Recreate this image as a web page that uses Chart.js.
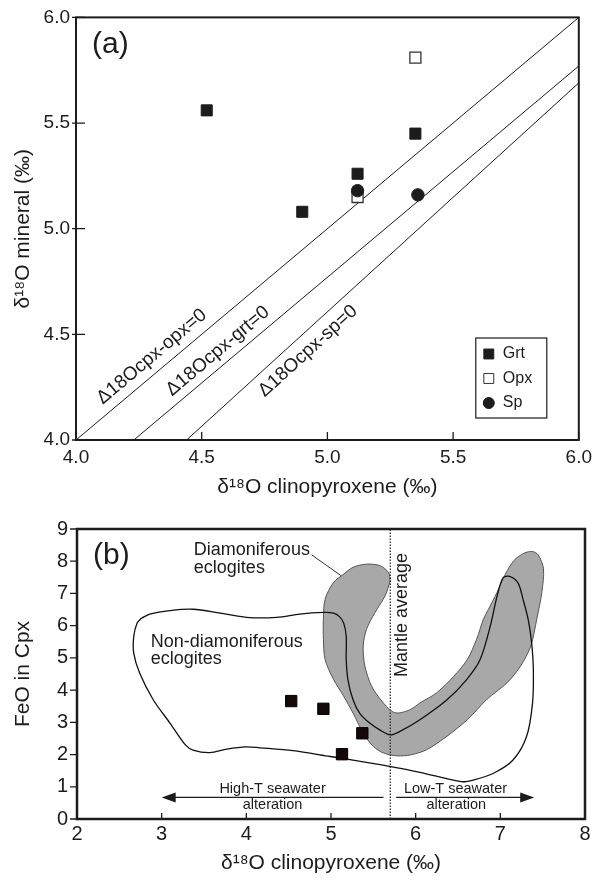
<!DOCTYPE html>
<html>
<head>
<meta charset="utf-8">
<script src="https://cdn.jsdelivr.net/npm/chart.js@4.4.1/dist/chart.umd.min.js"></script>
<style>
  html, body { margin: 0; padding: 0; background: #fff; }
  #chartA { position: absolute; left: 0; top: 0; }
  #chartB { position: absolute; left: 0; top: 500px; }
</style>
</head>
<body>
<canvas id="chartA" width="598" height="500"></canvas>
<canvas id="chartB" width="598" height="381"></canvas>
<script>
// ---- panel (a): d18O mineral vs d18O cpx ----
const grtX = [4.52, 4.90, 5.12, 5.35];
const grtY = [5.56, 5.08, 5.26, 5.45];
const opxX = [5.35, 5.12];
const opxY = [5.81, 5.15];
const spX = [5.12, 5.36];
const spY = [5.18, 5.16];
// equilibrium lines (endpoints)
const opxLineX = [4.0, 6.0];
const opxLineY = [4.0, 6.0];
const grtLineX = [4.23, 6.0];
const grtLineY = [4.0, 5.77];
const spLineX = [4.44, 6.0];
const spLineY = [4.0, 5.69];
const ticksA = [4.0, 4.5, 5.0, 5.5, 6.0];

// ---- panel (b): FeO in cpx vs d18O cpx ----
const cpxO = [4.53, 4.91, 5.37, 5.13];
const cpxFeO = [3.66, 3.42, 2.66, 2.01];
const mantleAvg = 5.7;
const ticksBx = [2, 3, 4, 5, 6, 7, 8];
const ticksBy = [0, 1, 2, 3, 4, 5, 6, 7, 8, 9];
// diamondiferous eclogite field (shaded)
const diamX = [5.70, 5.64, 5.52, 5.42, 5.38, 5.40, 5.48, 5.60, 5.72, 5.80, 5.94, 6.05, 6.25, 6.45, 6.61, 6.72, 6.80, 6.86,
  6.96, 7.06, 7.16, 7.28, 7.38, 7.45, 7.51, 7.49, 7.43, 7.36, 7.24, 7.08, 6.84, 6.61, 6.37, 6.13, 5.94, 5.78, 5.62, 5.50,
  5.38, 5.26, 5.15, 5.03, 4.93, 4.91, 4.91, 4.93, 5.03, 5.15, 5.26, 5.42, 5.58, 5.68, 5.70];
const diamY = [7.39, 6.93, 6.41, 5.89, 5.37, 4.75, 4.12, 3.66, 3.34, 3.29, 3.40, 3.60, 3.92, 4.43, 4.95, 5.58, 6.20, 6.51,
  7.03, 7.60, 8.02, 8.25, 8.30, 8.19, 7.76, 7.03, 6.20, 5.37, 4.75, 4.23, 3.71, 3.08, 2.57, 2.15, 1.99, 1.96, 2.05, 2.25,
  2.67, 3.29, 3.81, 4.33, 4.95, 5.58, 6.20, 6.82, 7.34, 7.60, 7.81, 7.91, 7.86, 7.65, 7.39];
// non-diamondiferous eclogite field (outline)
const nonDiamX = [2.76, 2.86, 3.10, 3.37, 3.69, 4.00, 4.36, 4.63, 4.91, 5.03, 5.10, 5.15, 5.18, 5.18, 5.20, 5.26, 5.34,
  5.46, 5.58, 5.70, 5.81, 6.05, 6.37, 6.60, 6.76, 6.88, 6.96, 7.03, 7.11, 7.21, 7.27, 7.33, 7.37, 7.39, 7.38, 7.31, 7.15,
  6.92, 6.68, 6.54, 6.05, 5.66, 5.26, 4.99, 4.55, 4.16, 4.00, 3.77, 3.57, 3.37, 3.28, 3.10, 2.90, 2.74, 2.67, 2.67, 2.71, 2.76];
const nonDiamY = [6.23, 6.36, 6.47, 6.51, 6.39, 6.26, 6.26, 6.36, 6.41, 6.39, 6.28, 6.08, 5.66, 4.94, 4.32, 3.70, 3.28,
  2.97, 2.76, 2.61, 2.71, 3.08, 3.70, 4.32, 4.94, 5.97, 6.90, 7.48, 7.53, 7.32, 6.80, 6.18, 5.46, 4.63, 3.59, 2.56, 1.83,
  1.42, 1.21, 1.16, 1.45, 1.65, 1.83, 1.94, 2.12, 2.21, 2.24, 2.17, 2.06, 2.14, 2.30, 2.97, 3.70, 4.53, 5.15, 5.66, 6.08, 6.23];
const leaderX = [4.77, 5.12];
const leaderY = [8.20, 7.55];

const FONT = "'Liberation Sans', Arial, Helvetica, sans-serif";
const INK = '#1c1c1c';

function pts(xs, ys) {
  return xs.map((x, i) => ({ x: x, y: ys[i] }));
}

function text(ctx, str, px, py, size, align, rot) {
  ctx.save();
  ctx.font = size + 'px ' + FONT;
  ctx.fillStyle = INK;
  ctx.textAlign = align || 'left';
  ctx.textBaseline = 'middle';
  ctx.translate(px, py);
  if (rot) ctx.rotate(rot);
  ctx.fillText(str, 0, 0);
  ctx.restore();
}

// frame + tick marks (ticks in/out given in px)
function frame(chart, o) {
  const { ctx, chartArea: a, scales: { x, y } } = chart;
  ctx.save();
  ctx.strokeStyle = INK;
  ctx.lineWidth = 1.3;
  ctx.beginPath();
  x.ticks.forEach(t => {
    const px = x.getPixelForValue(t.value);
    ctx.moveTo(px, a.bottom + o.xOut);
    ctx.lineTo(px, a.bottom - o.xIn);
  });
  y.ticks.forEach(t => {
    const py = y.getPixelForValue(t.value);
    ctx.moveTo(a.left - o.yOut, py);
    ctx.lineTo(a.left + o.yIn, py);
  });
  ctx.stroke();
  ctx.lineWidth = o.width;
  ctx.strokeRect(a.left, a.top, a.right - a.left, a.bottom - a.top);
  ctx.restore();
}

function axisOpts(min, max, tickList, fmt, size, pad, title, fit) {
  return {
    type: 'linear', min: min, max: max,
    afterBuildTicks: s => { s.ticks = tickList.map(v => ({ value: v })); },
    ticks: { callback: fmt, font: { family: FONT, size: size }, color: INK, padding: pad, maxRotation: 0, autoSkip: false },
    grid: { display: false, drawTicks: false },
    border: { display: false },
    title: { display: true, text: title.text, font: { family: FONT, size: 21 }, color: INK, padding: title.padding },
    afterFit: fit
  };
}

// ---------------- chart (a) ----------------
const lineLabels = [
  { text: 'Δ18Ocpx-opx=0', xs: opxLineX, ys: opxLineY, at: 4.34, off: 15 },
  { text: 'Δ18Ocpx-grt=0', xs: grtLineX, ys: grtLineY, at: 4.60, off: 14 },
  { text: 'Δ18Ocpx-sp=0', xs: spLineX, ys: spLineY, at: 4.88, off: -16 }
];

const notesA = {
  id: 'notesA',
  afterDatasetsDraw(chart) {
    const { ctx, chartArea: a, scales: { x, y } } = chart;
    frame(chart, { xOut: 0, xIn: 8, yOut: 4, yIn: 9, width: 2 });
    text(ctx, '(a)', a.left + 16, a.top + 27, 30);
    lineLabels.forEach(l => {
      const x0 = x.getPixelForValue(l.xs[0]), y0 = y.getPixelForValue(l.ys[0]);
      const x1 = x.getPixelForValue(l.xs[1]), y1 = y.getPixelForValue(l.ys[1]);
      const ang = Math.atan2(y1 - y0, x1 - x0);
      const t = (l.at - l.xs[0]) / (l.xs[1] - l.xs[0]);
      const px = x0 + t * (x1 - x0) + l.off * Math.sin(ang);
      const py = y0 + t * (y1 - y0) - l.off * Math.cos(ang);
      text(ctx, l.text, px, py, 19, 'center', ang);
    });
    // legend box
    const w = 71, h = 80;
    const lx = a.right - 32 - w, ly = a.bottom - 22 - h;
    ctx.save();
    ctx.fillStyle = '#fff';
    ctx.fillRect(lx, ly, w, h);
    ctx.strokeStyle = INK;
    ctx.lineWidth = 1.2;
    ctx.strokeRect(lx, ly, w, h);
    ctx.restore();
    ['Grt', 'Opx', 'Sp'].forEach((name, i) => {
      const ds = chart.data.datasets.find(d => d.label === name);
      const cy = ly + 16 + i * 24.5;
      ctx.save();
      ctx.fillStyle = ds.backgroundColor;
      ctx.strokeStyle = ds.borderColor;
      Chart.helpers.drawPoint(ctx, {
        pointStyle: ds.pointStyle, radius: ds.pointStyle === 'circle' ? 5.5 : 7,
        borderWidth: ds.borderWidth, rotation: 0
      }, lx + 13, cy);
      ctx.restore();
      text(ctx, name, lx + 27, cy, 16);
    });
  }
};

new Chart(document.getElementById('chartA'), {
  type: 'scatter',
  data: {
    datasets: [
      { label: 'Grt', data: pts(grtX, grtY), pointStyle: 'rect', pointRadius: 7.8,
        backgroundColor: INK, borderColor: INK, borderWidth: 1 },
      { label: 'Sp', data: pts(spX, spY), pointStyle: 'circle', pointRadius: 6.2,
        backgroundColor: INK, borderColor: INK, borderWidth: 1 },
      { label: 'Opx', data: pts(opxX, opxY), pointStyle: 'rect', pointRadius: 7.8,
        backgroundColor: '#fff', borderColor: '#333', borderWidth: 1.3 },
      { label: 'cpx-opx', type: 'line', data: pts(opxLineX, opxLineY), pointRadius: 0, borderColor: INK, borderWidth: 1, fill: false },
      { label: 'cpx-grt', type: 'line', data: pts(grtLineX, grtLineY), pointRadius: 0, borderColor: INK, borderWidth: 1, fill: false },
      { label: 'cpx-sp', type: 'line', data: pts(spLineX, spLineY), pointRadius: 0, borderColor: INK, borderWidth: 1, fill: false }
    ]
  },
  options: {
    responsive: false,
    animation: false,
    events: [],
    layout: { padding: { top: 14, right: 15, left: 0, bottom: 0 } },
    plugins: { legend: { display: false }, tooltip: { enabled: false } },
    scales: {
      x: axisOpts(4, 6, ticksA, v => v.toFixed(1), 19, 6,
        { text: 'δ¹⁸O clinopyroxene (‰)', padding: { top: 0, bottom: 0 } }, s => { s.height = 60; }),
      y: axisOpts(4, 6, ticksA, v => v.toFixed(1), 19, 6,
        { text: 'δ¹⁸O mineral (‰)', padding: { top: 11, bottom: 0 } }, s => { s.width = 76; })
    }
  },
  plugins: [notesA]
});

// ---------------- chart (b) ----------------
function arrow(ctx, xTail, xTip, yy) {
  const dir = xTip > xTail ? 1 : -1;
  ctx.save();
  ctx.strokeStyle = INK;
  ctx.fillStyle = INK;
  ctx.lineWidth = 1.2;
  ctx.beginPath();
  ctx.moveTo(xTail, yy);
  ctx.lineTo(xTip - dir * 10, yy);
  ctx.stroke();
  ctx.beginPath();
  ctx.moveTo(xTip, yy);
  ctx.lineTo(xTip - dir * 14, yy - 5);
  ctx.lineTo(xTip - dir * 14, yy + 5);
  ctx.closePath();
  ctx.fill();
  ctx.restore();
}

const notesB = {
  id: 'notesB',
  afterDatasetsDraw(chart) {
    const { ctx, chartArea: a, scales: { x, y } } = chart;
    frame(chart, { xOut: 0, xIn: 6, yOut: 7, yIn: 0, width: 2.5 });
    text(ctx, '(b)', a.left + 16, a.top + 27, 30);
    text(ctx, 'Diamoniferous', x.getPixelForValue(3.38), y.getPixelForValue(8.36), 18);
    text(ctx, 'eclogites', x.getPixelForValue(3.38), y.getPixelForValue(7.80), 18);
    text(ctx, 'Non-diamoniferous', x.getPixelForValue(2.87), y.getPixelForValue(5.50), 18);
    text(ctx, 'eclogites', x.getPixelForValue(2.87), y.getPixelForValue(4.95), 18);
    text(ctx, 'Mantle average', x.getPixelForValue(5.84), y.getPixelForValue(6.33), 18, 'center', -Math.PI / 2);
    const ya = y.getPixelForValue(0.67);
    arrow(ctx, x.getPixelForValue(5.62), x.getPixelForValue(3.0), ya);
    arrow(ctx, x.getPixelForValue(5.77), x.getPixelForValue(7.40), ya);
    text(ctx, 'High-T seawater', x.getPixelForValue(4.31), y.getPixelForValue(0.94), 14.5, 'center');
    text(ctx, 'alteration', x.getPixelForValue(4.31), y.getPixelForValue(0.43), 14.5, 'center');
    text(ctx, 'Low-T seawater', x.getPixelForValue(6.47), y.getPixelForValue(0.94), 14.5, 'center');
    text(ctx, 'alteration', x.getPixelForValue(6.48), y.getPixelForValue(0.43), 14.5, 'center');
  }
};

new Chart(document.getElementById('chartB'), {
  type: 'scatter',
  data: {
    datasets: [
      { label: 'Grt', data: pts(cpxO, cpxFeO), pointStyle: 'rect', pointRadius: 8,
        backgroundColor: '#140808', borderColor: '#000', borderWidth: 1 },
      { label: 'Mantle average', type: 'line', data: pts([mantleAvg, mantleAvg], [0, 9]), pointRadius: 0,
        borderColor: INK, borderWidth: 1.2, borderDash: [1.5, 1.5], fill: false },
      { label: 'leader', type: 'line', data: pts(leaderX, leaderY), pointRadius: 0, borderColor: '#333', borderWidth: 1, fill: false },
      { label: 'Non-diamoniferous eclogites', type: 'line', data: pts(nonDiamX, nonDiamY), pointRadius: 0,
        borderColor: '#111', borderWidth: 1.3, tension: 0.3, fill: false },
      { label: 'Diamoniferous eclogites', type: 'line', data: pts(diamX, diamY), pointRadius: 0,
        borderColor: '#555', borderWidth: 1, backgroundColor: '#a8a8a8', tension: 0.3, fill: 'shape' }
    ]
  },
  options: {
    responsive: false,
    animation: false,
    events: [],
    layout: { padding: { top: 29, right: 13, left: 0, bottom: 0 } },
    plugins: { legend: { display: false }, tooltip: { enabled: false } },
    scales: {
      x: axisOpts(2, 8, ticksBx, v => String(v), 20, 3,
        { text: 'δ¹⁸O clinopyroxene (‰)', padding: { top: 0, bottom: 5 } }, s => { s.height = 62; }),
      y: axisOpts(0, 9, ticksBy, v => String(v), 20, 9,
        { text: 'FeO in Cpx', padding: { top: 11, bottom: 0 } }, s => { s.width = 77; })
    }
  },
  plugins: [notesB]
});
</script>
</body>
</html>
